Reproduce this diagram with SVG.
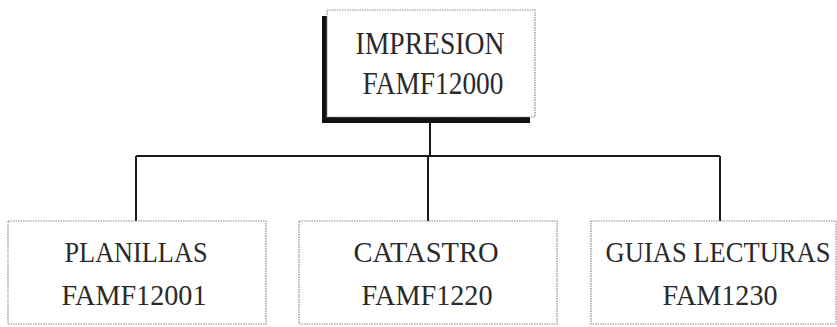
<svg xmlns="http://www.w3.org/2000/svg" width="837" height="327" viewBox="0 0 837 327">
<style>
.box{fill:#fff;stroke:#8a8a8a;stroke-width:1.2;stroke-dasharray:1.5 1}
.lbl{fill:#2a2a2a;text-anchor:middle}
.conn{fill:none;stroke:#1a1a1a;stroke-width:2}
</style>
<rect x="0" y="0" width="837" height="327" fill="#fff"/>
<g id="connectors">
<path class="conn" d="M430 120 V156 M136 156 H720 M136 156 V221 M428 156 V221 M720 156 V221"/>
</g>
<g id="node-impresion" font-family="Liberation Serif" font-size="32">
<rect x="322" y="16" width="208" height="107" fill="#111"/>
<rect class="box" x="327" y="10" width="208" height="107"/>
<text class="lbl" x="430" y="54" textLength="149" lengthAdjust="spacingAndGlyphs">IMPRESION</text>
<text class="lbl" x="433" y="94" textLength="141" lengthAdjust="spacingAndGlyphs">FAMF12000</text>
</g>
<g id="node-planillas" font-family="Liberation Serif" font-size="30">
<rect class="box" x="8" y="221" width="258" height="103"/>
<text class="lbl" x="136" y="262" textLength="143" lengthAdjust="spacingAndGlyphs">PLANILLAS</text>
<text class="lbl" x="134" y="305" textLength="145" lengthAdjust="spacingAndGlyphs">FAMF12001</text>
</g>
<g id="node-catastro" font-family="Liberation Serif" font-size="30">
<rect class="box" x="299" y="221" width="258" height="103"/>
<text class="lbl" x="426" y="262" textLength="145" lengthAdjust="spacingAndGlyphs">CATASTRO</text>
<text class="lbl" x="427" y="305" textLength="131" lengthAdjust="spacingAndGlyphs">FAMF1220</text>
</g>
<g id="node-guias" font-family="Liberation Serif" font-size="30">
<rect class="box" x="591" y="221" width="245" height="103"/>
<text class="lbl" transform="translate(718 262) scale(0.885 1)" x="0" y="0">GUIAS LECTURAS</text>
<text class="lbl" x="720" y="305" textLength="115" lengthAdjust="spacingAndGlyphs">FAM1230</text>
</g>
</svg>
